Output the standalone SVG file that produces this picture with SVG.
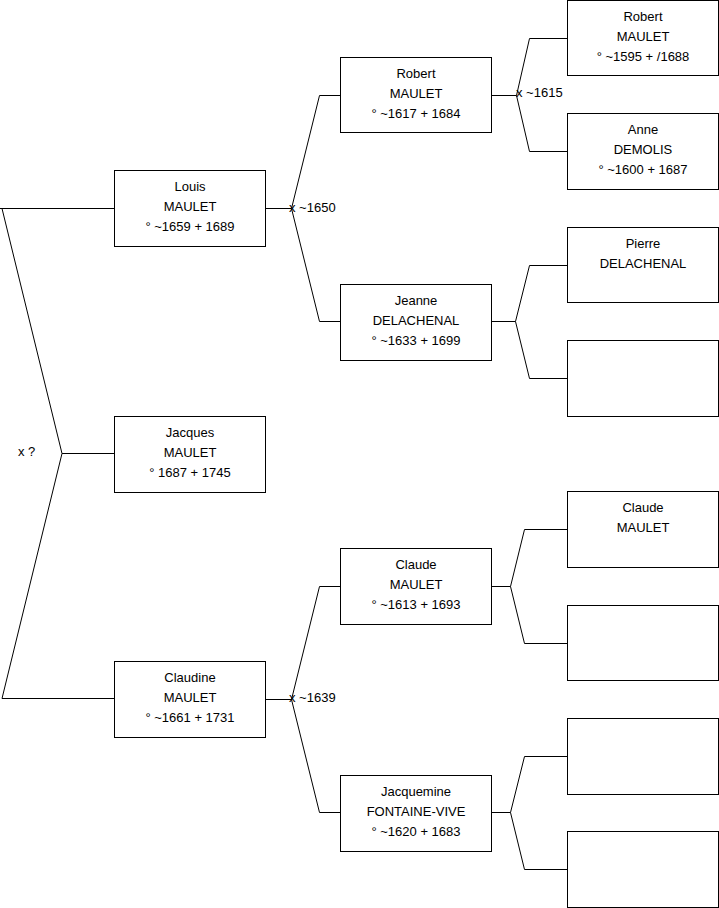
<svg xmlns="http://www.w3.org/2000/svg" width="719" height="908" viewBox="0 0 719 908">
<style>
.box{fill:#fff;stroke:#000;stroke-width:1}
.t{font-family:"Liberation Sans",Arial,sans-serif;font-size:13px;fill:#000;text-anchor:middle}
.l{font-family:"Liberation Sans",Arial,sans-serif;font-size:13px;fill:#000}
.c{fill:none;stroke:#000;stroke-width:1}
</style>
<rect width="719" height="908" fill="#fff"/>
<g id="connectors">
<polyline class="c" points="0,208.5 114.5,208.5"/>
<polyline class="c" points="2,208.5 62,453.5 2,698.5"/>
<polyline class="c" points="62,453.5 114.5,453.5"/>
<polyline class="c" points="2,698.5 114.5,698.5"/>
<polyline class="c" points="265.5,208.5 291.5,208.5"/>
<polyline class="c" points="340.5,95.5 319.5,95.5 291.5,208.5 319.5,321.5 340.5,321.5"/>
<polyline class="c" points="265.5,699.5 291.5,699.5"/>
<polyline class="c" points="340.5,586.5 319.5,586.5 291.5,699.5 319.5,812.5 340.5,812.5"/>
<polyline class="c" points="491.5,95.5 516.5,95.5"/>
<polyline class="c" points="567.5,38.5 529.5,38.5 516.5,95.5 529.5,151.5 567.5,151.5"/>
<polyline class="c" points="491.5,321.5 515.5,321.5"/>
<polyline class="c" points="567.5,265.5 529.5,265.5 515.5,321.5 529.5,378.5 567.5,378.5"/>
<polyline class="c" points="491.5,586.5 510.5,586.5"/>
<polyline class="c" points="567.5,529.5 524.5,529.5 510.5,586.5 524.5,643.5 567.5,643.5"/>
<polyline class="c" points="491.5,812.5 510.5,812.5"/>
<polyline class="c" points="567.5,756.5 524.5,756.5 510.5,812.5 524.5,869.5 567.5,869.5"/>
<text class="l" x="18" y="456">x ?</text>
<text class="l" x="289" y="212">x ~1650</text>
<text class="l" x="289" y="702">x ~1639</text>
<text class="l" x="516" y="97">x ~1615</text>
</g>
<g id="louis"><rect class="box" x="114.5" y="170.5" width="151" height="76"/>
<text class="t" x="190" y="191">Louis</text><text class="t" x="190" y="211">MAULET</text><text class="t" x="190" y="231">° ~1659 + 1689</text></g>
<g id="jacques"><rect class="box" x="114.5" y="416.5" width="151" height="76"/>
<text class="t" x="190" y="437">Jacques</text><text class="t" x="190" y="457">MAULET</text><text class="t" x="190" y="477">° 1687 + 1745</text></g>
<g id="claudine"><rect class="box" x="114.5" y="661.5" width="151" height="76"/>
<text class="t" x="190" y="682">Claudine</text><text class="t" x="190" y="702">MAULET</text><text class="t" x="190" y="722">° ~1661 + 1731</text></g>
<g id="robert2"><rect class="box" x="340.5" y="57.5" width="151" height="75"/>
<text class="t" x="416" y="78">Robert</text><text class="t" x="416" y="98">MAULET</text><text class="t" x="416" y="118">° ~1617 + 1684</text></g>
<g id="jeanne"><rect class="box" x="340.5" y="284.5" width="151" height="76"/>
<text class="t" x="416" y="305">Jeanne</text><text class="t" x="416" y="325">DELACHENAL</text><text class="t" x="416" y="345">° ~1633 + 1699</text></g>
<g id="claude2"><rect class="box" x="340.5" y="548.5" width="151" height="76"/>
<text class="t" x="416" y="569">Claude</text><text class="t" x="416" y="589">MAULET</text><text class="t" x="416" y="609">° ~1613 + 1693</text></g>
<g id="jacquemine"><rect class="box" x="340.5" y="775.5" width="151" height="76"/>
<text class="t" x="416" y="796">Jacquemine</text><text class="t" x="416" y="816">FONTAINE-VIVE</text><text class="t" x="416" y="836">° ~1620 + 1683</text></g>
<g id="robert3"><rect class="box" x="567.5" y="0.5" width="151" height="75"/>
<text class="t" x="643" y="21">Robert</text><text class="t" x="643" y="41">MAULET</text><text class="t" x="643" y="61">° ~1595 + /1688</text></g>
<g id="anne"><rect class="box" x="567.5" y="113.5" width="151" height="76"/>
<text class="t" x="643" y="134">Anne</text><text class="t" x="643" y="154">DEMOLIS</text><text class="t" x="643" y="174">° ~1600 + 1687</text></g>
<g id="pierre"><rect class="box" x="567.5" y="227.5" width="151" height="75"/>
<text class="t" x="643" y="248">Pierre</text><text class="t" x="643" y="268">DELACHENAL</text></g>
<g id="empty1"><rect class="box" x="567.5" y="340.5" width="151" height="76"/></g>
<g id="claude3"><rect class="box" x="567.5" y="491.5" width="151" height="76"/>
<text class="t" x="643" y="512">Claude</text><text class="t" x="643" y="532">MAULET</text></g>
<g id="empty2"><rect class="box" x="567.5" y="605.5" width="151" height="75"/></g>
<g id="empty3"><rect class="box" x="567.5" y="718.5" width="151" height="76"/></g>
<g id="empty4"><rect class="box" x="567.5" y="831.5" width="151" height="76"/></g>
</svg>
